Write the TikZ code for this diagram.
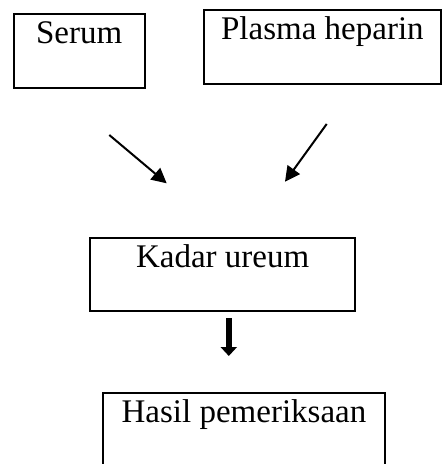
\documentclass[tikz,border=0pt]{standalone}
\usepackage{fontspec}
\setmainfont{Liberation Serif}
\usetikzlibrary{arrows.meta}

\begin{document}
\begin{tikzpicture}[x=1pt,y=-1pt]
  \tikzset{box/.style = {shape=rectangle,draw,line width=2pt,inner sep=0pt,outer sep=0pt,
      anchor=north west,text height=29.5pt,font=\fontsize{33}{38}\selectfont}}
  \tikzset{edge/.style = {line width=2pt,-{Triangle[width=15pt,length=15pt]}}}
  \tikzset{bigedge/.style = {line width=6.5pt,-{Triangle[width=16pt,length=9pt]}}}

  \clip (0,0) rectangle (442,464);

	\node[box,minimum width=130.8pt,text depth=44.5pt] (S) at (13.7,14.3) {Serum};
	\node[box,minimum width=236.2pt,text depth=44.5pt] (P) at (204.3,10.3) {Plasma heparin};

	\node[box,minimum width=264.7pt,text depth=43.2pt] (K) at (90.3,238.3) {Kadar ureum};
	\node[box,minimum width=282pt,text depth=60pt] (H) at (103,392.7) {Hasil pemeriksaan};

	\coordinate (S1) at (109.3,135);
	\coordinate (S2) at (166.7,183.3);
	\coordinate (P1) at (326.7,124);
	\coordinate (P2) at (285,181.7);
	\coordinate (K1) at (228.8,318.3);
	\coordinate (K2) at (228.8,356);

       \foreach \from/\to in {S1/S2, P1/P2}
    \draw[edge] (\from) -- (\to);
    \draw[bigedge] (K1) -- (K2);
\end{tikzpicture}
\end{document}
